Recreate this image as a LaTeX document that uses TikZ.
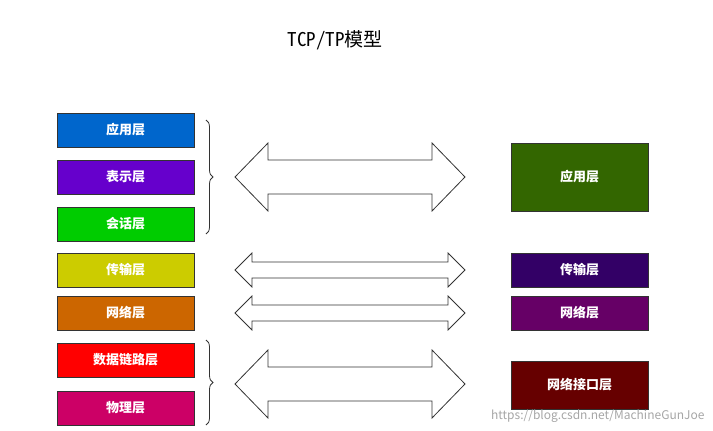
\documentclass[tikz,border=0pt]{standalone}
\usepackage{fontspec}
\setmainfont{Noto Sans CJK SC}
\newfontfamily\titlefont{Noto Sans Mono CJK SC}
\usetikzlibrary{decorations.pathreplacing}
\definecolor{cA}{HTML}{0066CC}\definecolor{cB}{HTML}{6600CC}\definecolor{cC}{HTML}{00CC00}
\definecolor{cD}{HTML}{CCCC00}\definecolor{cE}{HTML}{CC6600}\definecolor{cF}{HTML}{FF0000}
\definecolor{cG}{HTML}{CC0066}\definecolor{rA}{HTML}{336600}\definecolor{rB}{HTML}{330066}
\definecolor{rC}{HTML}{660066}\definecolor{rD}{HTML}{660000}
\tikzset{layer/.style={draw=black!80,minimum width=137pt,text=white,font=\fontsize{13}{15}\selectfont\bfseries,inner sep=0pt},
 dblarrow/.style={draw=black!80,fill=white,line width=0.8pt},
 brace/.style={decorate,decoration={brace,amplitude=7pt},draw=black!80,line width=0.8pt}}
\newcommand{\dbar}[4]{%
\draw[dblarrow] (235,#1) -- (235+#4,#1-#2) -- (235+#4,#1-#3) -- (465-#4,#1-#3) -- (465-#4,#1-#2) -- (465,#1) -- (465-#4,#1+#2) -- (465-#4,#1+#3) -- (235+#4,#1+#3) -- (235+#4,#1+#2) -- cycle;}
\begin{document}
\begin{tikzpicture}[x=1pt,y=-1pt]
\useasboundingbox (0,0) rectangle (713,431);
\node[font=\titlefont\fontsize{19}{22}\selectfont] (title) at (335,40) {TCP/TP模型};
\node[layer,fill=cA,minimum height=34pt] (l1) at (125.5,130) {应用层};
\node[layer,fill=cB,minimum height=34pt] (l2) at (125.5,177) {表示层};
\node[layer,fill=cC,minimum height=34pt] (l3) at (125.5,224) {会话层};
\node[layer,fill=cD,minimum height=34pt] (l4) at (125.5,270) {传输层};
\node[layer,fill=cE,minimum height=34pt] (l5) at (125.5,313) {网络层};
\node[layer,fill=cF,minimum height=34pt] (l6) at (125.5,360) {数据链路层};
\node[layer,fill=cG,minimum height=34pt] (l7) at (125.5,408) {物理层};
\node[layer,fill=rA,minimum height=68pt] (r1) at (579.5,177) {应用层};
\node[layer,fill=rB,minimum height=34pt] (r2) at (579.5,270) {传输层};
\node[layer,fill=rC,minimum height=34pt] (r3) at (579.5,313) {网络层};
\node[layer,fill=rD,minimum height=48pt] (r4) at (579.5,385) {网络接口层};
\coordinate (b1t) at (206,120); \coordinate (b1b) at (206,234);
\coordinate (b2t) at (206,340); \coordinate (b2b) at (206,425);
\draw[brace] (b1t) -- (b1b);
\draw[brace] (b2t) -- (b2b);
\dbar{177}{34}{17}{33}
\dbar{270}{17}{8}{17}
\dbar{313}{17}{8}{17}
\dbar{384}{34}{17}{33}
\node[text=black!35,font=\fontsize{12}{14}\selectfont,anchor=south east] (wm) at (708,426) {https://blog.csdn.net/MachineGunJoe};
\end{tikzpicture}
\end{document}
